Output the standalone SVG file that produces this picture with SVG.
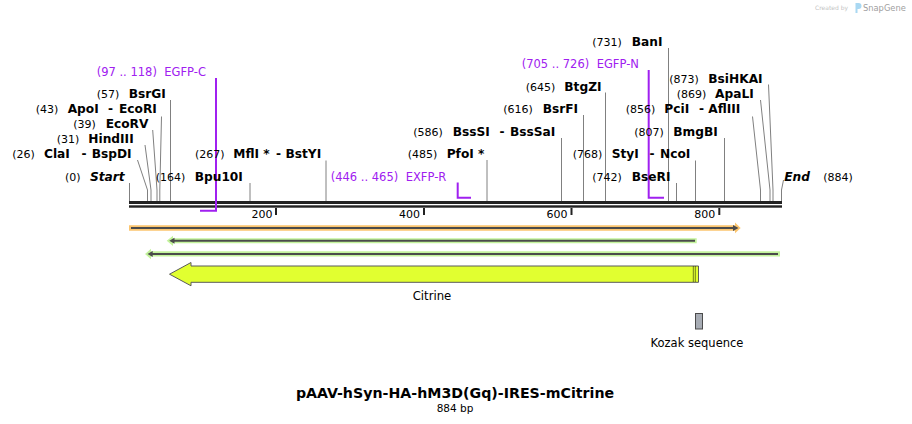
<svg xmlns="http://www.w3.org/2000/svg" width="912" height="424" viewBox="0 0 912 424">
<style>
text{font-family:"DejaVu Sans","Liberation Sans",sans-serif;fill:#000}
.n{font-size:11px}
.b{font-size:12.2px;font-weight:bold}
.bi{font-size:12.2px;font-weight:bold;font-style:italic}
.p{font-size:11.5px;fill:#a020f0}
.site{fill:none;stroke:#808080;stroke-width:1}
.primer{fill:none;stroke:#a020f0;stroke-width:2}
.tick{fill:#222}
.dk{fill:none;stroke:#4b4b4b;stroke-width:2}
.dkf{fill:#4b4b4b}
</style>
<rect width="912" height="424" fill="#fff"/>
<g id="watermark">
<text x="815" y="9.5" style="font-size:6px;fill:#c4c4c4">Created by</text>
<path d="M855.5 3 h3 a3 3 0 0 1 0 6 h-1 v4 h-2 z" fill="#a9d8f2"/>
<text x="863" y="10.5" style="font-size:8.3px;fill:#a0a0a0">SnapGene</text>
</g>
<g id="ruler">
<rect x="129" y="201" width="653" height="3" fill="#222"/>
<rect x="129" y="205.3" width="653" height="2.4" fill="#222"/>
<rect class="tick" x="275" y="208" width="2" height="7"/>
<rect class="tick" x="423" y="208" width="2" height="7"/>
<rect class="tick" x="570.5" y="208" width="2" height="7"/>
<rect class="tick" x="718.3" y="208" width="2" height="7"/>
<text class="n" x="272.5" y="218" text-anchor="end">200</text>
<text class="n" x="420" y="218" text-anchor="end">400</text>
<text class="n" x="567.5" y="218" text-anchor="end">600</text>
<text class="n" x="715.3" y="218" text-anchor="end">800</text>
</g>
<g id="connectors">
<path class="site" d="M129.5 183V201"/>
<path class="site" d="M137.5 160L147.5 190V201"/>
<path class="site" d="M145 145L151 190V201"/>
<path class="site" d="M152.7 130L157 190V201"/>
<path class="site" d="M161.5 116.5L159.8 190V201"/>
<path class="site" d="M170.5 100V201"/>
<path class="site" d="M250 183V201"/>
<path class="site" d="M326 160.5V201"/>
<path class="site" d="M487 160V201"/>
<path class="site" d="M561.5 138V201"/>
<path class="site" d="M583.5 115V201"/>
<path class="site" d="M605.5 92.5V201"/>
<path class="site" d="M668.5 48V201"/>
<path class="site" d="M676.5 183V201"/>
<path class="site" d="M695.5 160.5V201"/>
<path class="site" d="M724.5 138V201"/>
<path class="site" d="M752.5 116.5L760.5 190V201"/>
<path class="site" d="M760.5 100L770 190V201"/>
<path class="site" d="M768.5 84.5L773 190V201"/>
<path class="site" d="M783.5 180L781.5 190V201"/>
<path class="primer" d="M216 78V210.7H200"/>
<path class="primer" d="M457.7 182.5V197.7H471"/>
<path class="primer" d="M648.7 70V197.7H664"/>
</g>
<g id="site-start"><text y="181"><tspan class="n" x="65">(0)</tspan><tspan class="bi" x="90">Start</tspan></text></g>
<g id="site-clai"><text y="158.3"><tspan class="n" x="12.3">(26)</tspan><tspan class="b" x="44">ClaI</tspan><tspan class="b" x="81.5">-</tspan><tspan class="b" x="91.7">BspDI</tspan></text></g>
<g id="site-hindiii"><text y="143.3"><tspan class="n" x="56.7">(31)</tspan><tspan class="b" x="88.3">HindIII</tspan></text></g>
<g id="site-ecorv"><text y="128"><tspan class="n" x="73.3">(39)</tspan><tspan class="b" x="105.7">EcoRV</tspan></text></g>
<g id="site-apoi"><text y="113.3"><tspan class="n" x="35.7">(43)</tspan><tspan class="b" x="67.7">ApoI</tspan><tspan class="b" x="108">-</tspan><tspan class="b" x="119">EcoRI</tspan></text></g>
<g id="site-bsrgi"><text y="98.3"><tspan class="n" x="96.7">(57)</tspan><tspan class="b" x="128.7">BsrGI</tspan></text></g>
<g id="primer-egfpc"><text y="75.5"><tspan class="p" x="96.7">(97 .. 118)</tspan><tspan class="p" x="164.3">EGFP-C</tspan></text></g>
<g id="site-bpu10i"><text y="181"><tspan class="n" x="155.7">(164)</tspan><tspan class="b" x="194.7">Bpu10I</tspan></text></g>
<g id="site-mfli"><text y="158.3"><tspan class="n" x="195">(267)</tspan><tspan class="b" x="233.3">MflI *</tspan><tspan class="b" x="276">-</tspan><tspan class="b" x="285.5">BstYI</tspan></text></g>
<g id="primer-exfpr"><text y="181"><tspan class="p" x="330.7">(446 .. 465)</tspan><tspan class="p" x="405.7">EXFP-R</tspan></text></g>
<g id="site-pfoi"><text y="158.3"><tspan class="n" x="407.7">(485)</tspan><tspan class="b" x="446.7">PfoI *</tspan></text></g>
<g id="site-bsssi"><text y="136"><tspan class="n" x="413.3">(586)</tspan><tspan class="b" x="452.7">BssSI</tspan><tspan class="b" x="499.5">-</tspan><tspan class="b" x="510">BssSaI</tspan></text></g>
<g id="site-bsrfi"><text y="113.3"><tspan class="n" x="503.3">(616)</tspan><tspan class="b" x="542.7">BsrFI</tspan></text></g>
<g id="site-btgzi"><text y="91"><tspan class="n" x="525.7">(645)</tspan><tspan class="b" x="564.3">BtgZI</tspan></text></g>
<g id="primer-egfpn"><text y="68.3"><tspan class="p" x="521.7">(705 .. 726)</tspan><tspan class="p" x="596.7">EGFP-N</tspan></text></g>
<g id="site-bani"><text y="46"><tspan class="n" x="592.3">(731)</tspan><tspan class="b" x="631.7">BanI</tspan></text></g>
<g id="site-beri"><text y="181"><tspan class="n" x="592.3">(742)</tspan><tspan class="b" x="631.7">BseRI</tspan></text></g>
<g id="site-styi"><text y="158.3"><tspan class="n" x="572.7">(768)</tspan><tspan class="b" x="611.7">StyI</tspan><tspan class="b" x="649.5">-</tspan><tspan class="b" x="660">NcoI</tspan></text></g>
<g id="site-bmgbi"><text y="136"><tspan class="n" x="634.3">(807)</tspan><tspan class="b" x="673.3">BmgBI</tspan></text></g>
<g id="site-pcii"><text y="113.3"><tspan class="n" x="625.7">(856)</tspan><tspan class="b" x="664.3">PciI</tspan><tspan class="b" x="699">-</tspan><tspan class="b" x="708.3">AflIII</tspan></text></g>
<g id="site-apali"><text y="98.3"><tspan class="n" x="676.7">(869)</tspan><tspan class="b" x="715">ApaLI</tspan></text></g>
<g id="site-bsihkai"><text y="82.7"><tspan class="n" x="669.3">(873)</tspan><tspan class="b" x="708.3">BsiHKAI</tspan></text></g>
<g id="site-end"><text y="181"><tspan class="bi" x="784.3">End</tspan><tspan class="n" x="823.3">(884)</tspan></text></g>
<g id="feature-orange">
<polygon points="129,225.3 735,225.3 735,222.5 740.7,228 735,233.3 735,230.7 129,230.7" fill="#fbc56f"/>
<path class="dk" d="M131 228H734"/>
<polygon class="dkf" points="733,225 738.5,228 733,231"/>
</g>
<g id="feature-green1">
<polygon points="696.7,238.3 173,238.3 173,235.7 166.7,240.8 173,245.9 173,243.3 696.7,243.3" fill="#c3f39c"/>
<path class="dk" d="M174 240.8H695"/>
<polygon class="dkf" points="169.3,240.8 174.5,237.8 174.5,243.8"/>
</g>
<g id="feature-green2">
<polygon points="780,251.3 151,251.3 151,248.8 145,254 151,259.2 151,256.5 780,256.5" fill="#c3f39c"/>
<path class="dk" d="M152 253.9H778"/>
<polygon class="dkf" points="147.5,253.9 152.7,250.9 152.7,256.9"/>
</g>
<g id="feature-citrine">
<path d="M698.5 266H191V262.5L169.5 274.2L191 285.8V282.3H698.5Z" fill="#e1ff30" stroke="#5a5a5a" stroke-width="1"/>
<path d="M693.3 266.5V282M695.3 266.5V282" stroke="#000" stroke-width="1" stroke-dasharray="1,1"/>
<text x="432" y="299.5" text-anchor="middle" style="font-size:11.7px">Citrine</text>
</g>
<g id="feature-kozak">
<rect x="695.5" y="313.5" width="7" height="15.5" fill="#a7acb4" stroke="#4b4b4b" stroke-width="1"/>
<text x="697" y="346.5" text-anchor="middle" style="font-size:11.5px">Kozak sequence</text>
</g>
<g id="title">
<text x="455" y="398" text-anchor="middle" style="font-size:14.2px;font-weight:bold">pAAV-hSyn-HA-hM3D(Gq)-IRES-mCitrine</text>
<text x="455" y="412" text-anchor="middle" style="font-size:10.5px">884 bp</text>
</g>
</svg>
